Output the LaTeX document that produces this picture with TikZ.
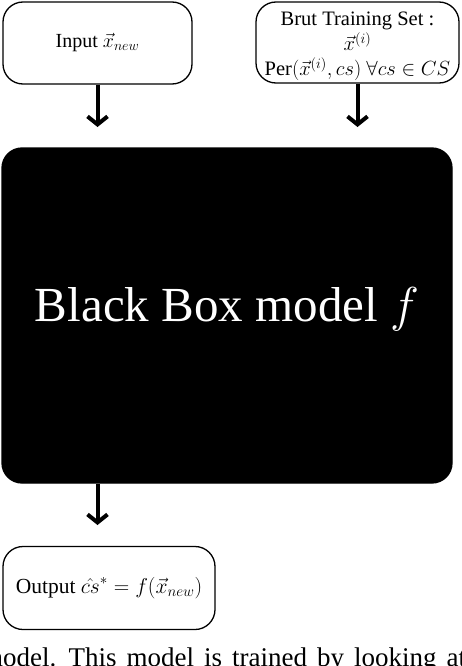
\RequirePackage{fix-cm}
\documentclass[tikz,border=0pt]{standalone}
\usepackage{fontspec}
\setmainfont{Liberation Serif}
\usetikzlibrary{arrows.meta,positioning}

\begin{document}
\begin{tikzpicture}[x=1pt,y=-1pt,
    box/.style={draw,rounded corners=20pt,line width=1.3pt,align=center,inner sep=0pt},
    flow/.style={line width=4pt,-{Straight Barb[length=8pt,width=20pt]}}]
  \useasboundingbox (0,0) rectangle (462,666);
  \begin{scope}[every node/.style={box,font=\fontsize{20}{24}\selectfont}]
    \node (input) [minimum width=189pt,minimum height=82pt] at (97.5,43) {Input $\vec{x}_{new}$};
    \node (brut) [minimum width=203pt,minimum height=81pt,font=\fontsize{20.5}{25}\selectfont] at (357.5,42.5)
      {\rule{0pt}{22pt}Brut Training Set :\\ $\vec{x}^{(i)}$\\ Per$(\vec{x}^{(i)},cs)$ $\forall cs\in CS$};
    \node (blackbox) [fill=black,draw=black,text=white,minimum width=450pt,minimum height=335pt,
      font=\fontsize{49}{55}\selectfont] at (227,315.5) {\raisebox{22pt}{Black Box model $f$}};
    \node (output) [minimum width=212pt,minimum height=83pt,font=\fontsize{21.5}{25}\selectfont] at (109,588)
      {Output $\hat{cs}^{*}=f(\vec{x}_{new})$};
  \end{scope}
  \coordinate (inTip) at (97.5,127);
  \coordinate (brutTip) at (357.5,127);
  \coordinate (outTip) at (97.5,525);
  \begin{scope}[every edge/.style={draw,flow}]
    \path (input) edge (inTip);
    \path (brut) edge (brutTip);
    \path (blackbox.south -| input.south) edge (outTip);
  \end{scope}
  \node (caption) [anchor=base west,inner sep=0pt,font=\fontsize{27}{32}\selectfont] at (-18,666)
    {\spaceskip=10pt model. This model is trained by looking at};
\end{tikzpicture}
\end{document}
